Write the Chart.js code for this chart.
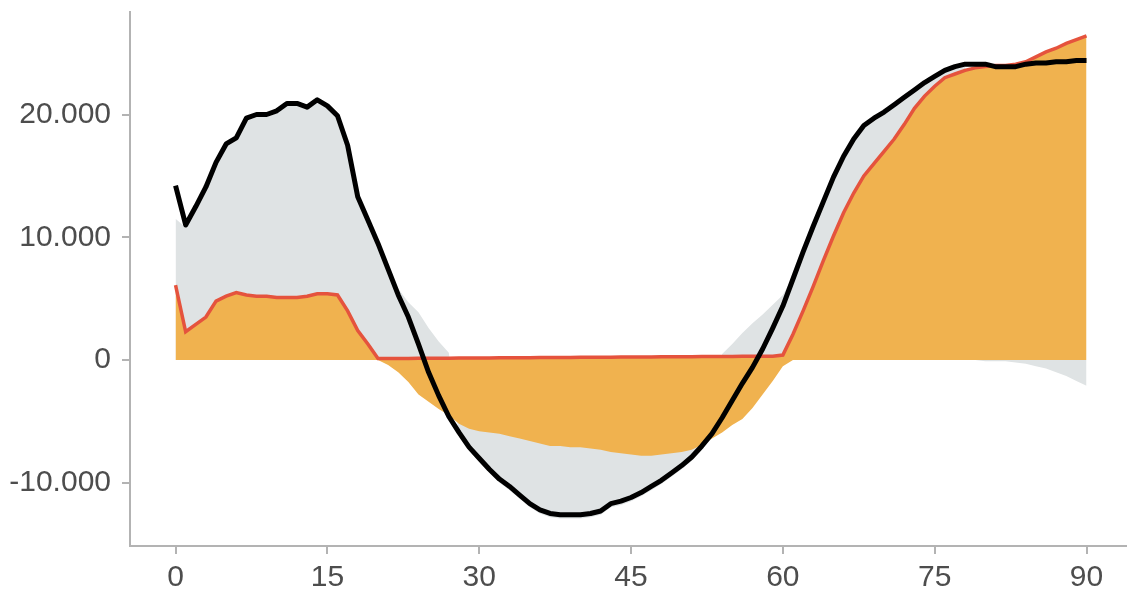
<!DOCTYPE html>
<html><head><meta charset="utf-8">
<script src="https://cdn.jsdelivr.net/npm/chart.js@4/dist/chart.umd.min.js"></script>
<style>html,body{margin:0;padding:0;background:#fff;overflow:hidden}canvas{display:block}</style>
</head><body>
<canvas id="c" width="1127" height="592"></canvas>
<script>
const xValues = [0,1,2,3,4,5,6,7,8,9,10,11,12,13,14,15,16,17,18,19,20,21,22,23,24,25,26,27,28,29,30,31,32,33,34,35,36,37,38,39,40,41,42,43,44,45,46,47,48,49,50,51,52,53,54,55,56,57,58,59,60,61,62,63,64,65,66,67,68,69,70,71,72,73,74,75,76,77,78,79,80,81,82,83,84,85,86,87,88,89,90];

const blackSeries = [14200,11000,12500,14100,16100,17600,18100,19700,20000,20000,20300,20900,20900,20600,21200,20700,19900,17500,13300,11400,
  9500,7400,5300,3500,1300,-1000,-2900,-4600,-5900,-7100,-8000,-8900,-9700,-10300,-11000,-11700,-12200,-12500,-12600,-12600,
  -12600,-12500,-12300,-11700,-11500,-11200,-10800,-10300,-9800,-9200,-8600,-7900,-7000,-6000,-4700,-3300,-1900,-600,900,2600,
  4400,6600,8800,10900,12900,14900,16600,18000,19100,19700,20200,20800,21400,22000,22600,23100,23600,23900,24100,24100,
  24100,23900,23900,23900,24100,24200,24200,24300,24300,24400,24400];

const redSeries = [6100,2300,2900,3500,4800,5200,5500,5300,5200,5200,5100,5100,5100,5200,5400,5400,5300,4000,2400,1300,
  120,120,130,130,140,140,150,150,160,160,170,170,180,180,190,190,200,200,210,210,
  220,220,230,230,240,240,250,250,260,260,270,270,280,280,290,290,300,300,300,300,
  400,2100,4000,6000,8100,10100,12000,13600,15000,16000,17000,18000,19200,20500,21500,22300,23000,23300,23600,23800,
  23900,24000,24000,24100,24300,24700,25100,25400,25800,26100,26400];

const negSeries = [0,0,0,0,0,0,0,0,0,0,0,0,0,0,0,0,0,0,0,0,
  0,-400,-1000,-1800,-2800,-3400,-4000,-4500,-5200,-5600,-5800,-5900,-6000,-6200,-6400,-6600,-6800,-7000,-7000,-7100,
  -7100,-7200,-7300,-7500,-7600,-7700,-7800,-7800,-7700,-7600,-7500,-7300,-6900,-6400,-5900,-5300,-4800,-3900,-2800,-1700,
  -500,0,0,0,0,0,0,0,0,0,0,0,0,0,0,0,0,0,0,0,
  0,0,0,0,0,0,0,0,0,0,0];

const greySeries = [11500,10800,12300,13900,15900,17400,17900,19500,19800,19800,20100,20700,20700,20400,21000,20500,19700,17300,13100,11200,
  9300,7200,5800,4700,3900,2600,1500,600,-6200,-7400,-8300,-9200,-10000,-10600,-11300,-12000,-12500,-12800,-12900,-12900,
  -12900,-12800,-12600,-12000,-11800,-11500,-11100,-10600,-10100,-9500,-8900,-8200,-7300,-5500,500,1300,2200,3000,3700,4500,
  5300,6800,8900,11000,13000,15000,16700,18100,19200,19800,20300,20900,21500,22100,22600,23100,23600,23900,24000,0,
  -100,-100,-100,-200,-300,-500,-700,-1000,-1300,-1700,-2100];

const xTicks = [0,15,30,45,60,75,90];
const xTickLabels = ['0','15','30','45','60','75','90'];
const yTicks = [-10000,0,10000,20000];
const yTickLabels = ['-10.000','0','10.000','20.000'];

const pts = arr => xValues.map((x, i) => ({x: x, y: arr[i]}));

const AXIS = '#b3b3b3';
const TEXT = '#4d4d4d';
const FONT = {family: "'Liberation Sans', Arial, sans-serif", size: 30};

new Chart(document.getElementById('c'), {
  type: 'line',
  data: {
    datasets: [
      {data: pts(blackSeries), borderColor: '#000000', borderWidth: 5, pointRadius: 0, fill: false, order: 0, borderJoinStyle: 'round'},
      {data: pts(redSeries), borderColor: '#e5533d', borderWidth: 3.5, backgroundColor: '#f0b24f', fill: 'origin', pointRadius: 0, order: 1},
      {data: pts(negSeries), borderColor: 'rgba(0,0,0,0)', borderWidth: 0, backgroundColor: '#f0b24f', fill: 'origin', pointRadius: 0, order: 2},
      {data: pts(greySeries), borderColor: 'rgba(0,0,0,0)', borderWidth: 0, backgroundColor: '#dfe3e4', fill: 'origin', pointRadius: 0, order: 3}
    ]
  },
  options: {
    responsive: false,
    animation: false,
    devicePixelRatio: 1,
    layout: {padding: {top: 12, left: 0, right: 0, bottom: 0}},
    plugins: {legend: {display: false}, tooltip: {enabled: false}},
    scales: {
      x: {
        type: 'linear', min: -4.5, max: 94,
        afterBuildTicks: s => { s.ticks = xTicks.map(v => ({value: v})); },
        afterFit: s => { s.height = 46; s.paddingLeft = 0; s.paddingRight = 0; },
        ticks: {font: FONT, color: TEXT, padding: 6, maxRotation: 0, autoSkip: false,
          callback: v => xTickLabels[xTicks.indexOf(v)]},
        grid: {drawOnChartArea: false, drawTicks: true, tickLength: 8, color: AXIS, lineWidth: 2},
        border: {display: true, color: AXIS, width: 2}
      },
      y: {
        type: 'linear', min: -15150, max: 28350,
        afterBuildTicks: s => { s.ticks = yTicks.map(v => ({value: v})); },
        afterFit: s => { s.width = 130; s.paddingTop = 0; s.paddingBottom = 0; },
        ticks: {font: FONT, color: TEXT, padding: 11, autoSkip: false,
          callback: v => yTickLabels[yTicks.indexOf(v)]},
        grid: {drawOnChartArea: false, drawTicks: true, tickLength: 8, color: AXIS, lineWidth: 2},
        border: {display: true, color: AXIS, width: 2}
      }
    }
  }
});
</script>
</body></html>
